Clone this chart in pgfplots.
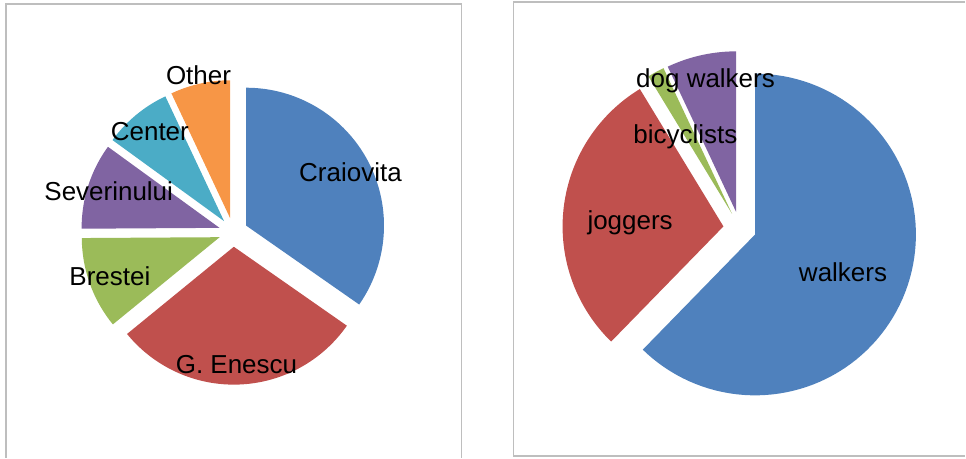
\documentclass[border=0pt]{standalone}
\usepackage{fontspec}
\setmainfont{Liberation Sans}
\usepackage{pgfplots}
\usepackage{pgfplotstable}
\pgfplotsset{compat=1.18}
\definecolor{pblue}{HTML}{4F81BD}
\definecolor{pred}{HTML}{C0504D}
\definecolor{pgreen}{HTML}{9BBB59}
\definecolor{ppurple}{HTML}{8064A2}
\definecolor{pcyan}{HTML}{4BACC6}
\definecolor{porange}{HTML}{F79646}
\definecolor{frame}{HTML}{BEBEBE}

\pgfplotstableread[col sep=comma]{
label,value,color
Craiovita,34.7,pblue
G. Enescu,29.4,pred
Brestei,10.8,pgreen
Severinului,10.1,ppurple
Center,8.0,pcyan
Other,7.0,porange
}\leftdata
\pgfplotstableread[col sep=comma]{
label,value,color
walkers,62.3,pblue
joggers,29.0,pred
bicyclists,1.7,pgreen
dog walkers,7.0,ppurple
}\rightdata

% #1 table, #2 cx, #3 cy, #4 radius, #5 explode distance, #6 last row index
\newcommand\drawpie[6]{%
  \gdef\cum{0}%
  \pgfplotsforeachungrouped \i in {0,...,#6}{%
    \pgfplotstablegetelem{\i}{value}\of{#1}\let\val\pgfplotsretval
    \pgfplotstablegetelem{\i}{color}\of{#1}\let\col\pgfplotsretval
    \pgfmathsetmacro\aS{90-3.6*\cum}%
    \pgfmathsetmacro\aE{90-3.6*(\cum+\val)}%
    \pgfmathsetmacro\aM{(\aS+\aE)/2}%
    \pgfmathsetmacro\ax{#2+#5*cos(\aM)}%
    \pgfmathsetmacro\ay{#3+#5*sin(\aM)}%
    \edef\temp{\noexpand\addplot[fill=\col,draw=none,domain=\aE:\aS,samples=90] ({\ax+#4*cos(x)},{\ay+#4*sin(x)}) -- (axis cs:\ax,\ay) -- cycle;}%
    \temp
    \pgfmathsetmacro\newcum{\cum+\val}\xdef\cum{\newcum}%
  }%
}

\begin{document}
\begin{tikzpicture}
\begin{axis}[scale only axis, width=966pt, height=458pt,
  xmin=0, xmax=966, ymin=0, ymax=458, hide axis, clip=false]
\path (axis cs:0,0) rectangle (axis cs:966,458);
\draw[frame, line width=1.8pt] (axis cs:5.7,0) -- (axis cs:5.7,454) -- (axis cs:462,454) -- (axis cs:462,0);
\draw[frame, line width=1.8pt] (axis cs:966,456) -- (axis cs:514,456) -- (axis cs:514,1.3) -- (axis cs:966,1.3);

\drawpie{\leftdata}{233.5}{225.5}{138}{14.5}{5}
\drawpie{\rightdata}{740.5}{229.5}{161}{16.5}{3}

\tikzset{lab/.style={anchor=base, inner sep=0pt, font=\fontsize{26}{30}\selectfont}}
\node[lab] at (axis cs:350.8,276.3) {Craiovita};
\node[lab] at (axis cs:236.7,84) {G. Enescu};
\node[lab] at (axis cs:110,172) {Brestei};
\node[lab] at (axis cs:108.8,257) {Severinului};
\node[lab] at (axis cs:150,317.3) {Center};
\node[lab] at (axis cs:198.7,373.7) {Other};
\node[lab] at (axis cs:843.8,176.3) {walkers};
\node[lab] at (axis cs:630.7,228) {joggers};
\node[lab] at (axis cs:686,314.7) {bicyclists};
\node[lab] at (axis cs:706.2,370.7) {dog walkers};
\end{axis}
\end{tikzpicture}
\end{document}
